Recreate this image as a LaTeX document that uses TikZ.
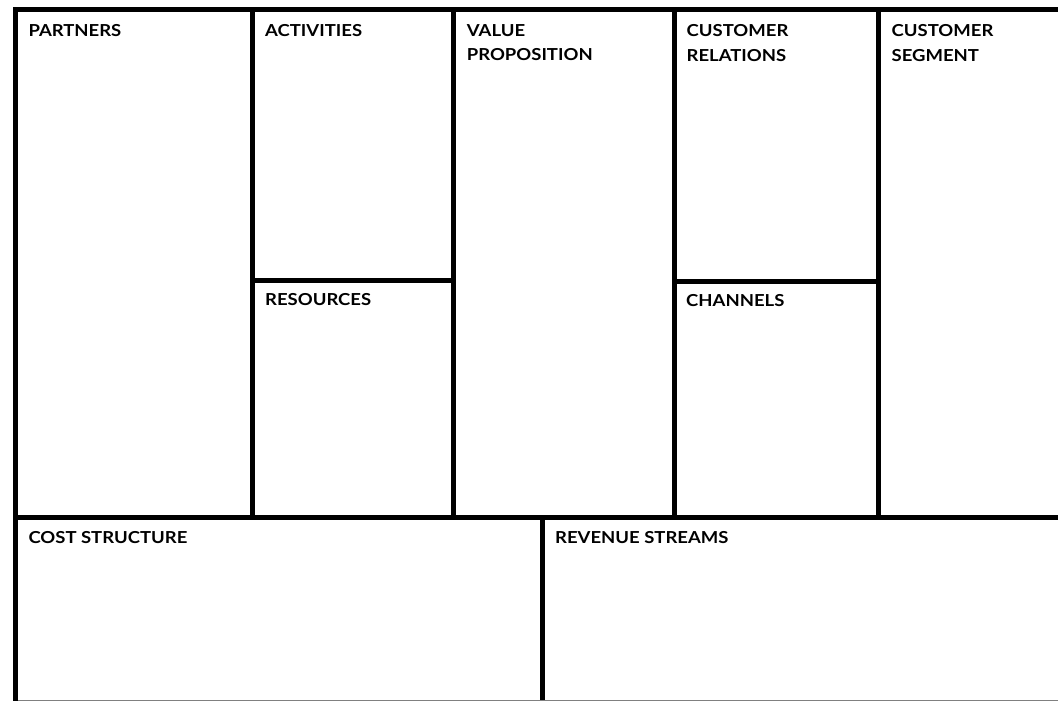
\documentclass[tikz,border=0pt]{standalone}
\usepackage{fontspec}
\setmainfont{Lato}
\newfontfamily\lblfont[FakeStretch=1.12]{Lato}
\begin{document}
\begin{tikzpicture}[x=1pt,y=-1pt,
  grid/.style={line width=5pt, draw=black},
  lbl/.style={anchor=north west, inner sep=0pt, align=left,
    font=\lblfont\fontsize{16.5}{24.5}\selectfont\bfseries}]
\useasboundingbox (0,0) rectangle (1058,701);
\fill[white] (0,0) rectangle (1058,701);
% outer frame (left + top)
\draw[grid, line join=miter] (15.8,701) -- (15.8,9.5) -- (1058,9.5);
% upper verticals
\draw[grid] (252,9.5) -- (252,517);
\draw[grid] (453,9.5) -- (453,517);
\draw[grid] (674,9.5) -- (674,517);
\draw[grid] (878,9.5) -- (878,517);
% middle horizontals
\draw[grid] (252,280) -- (453,280);
\draw[grid] (674,281) -- (878,281);
% bottom horizontal
\draw[grid] (15.8,517) -- (1058,517);
% revenue divider
\draw[grid] (542,517) -- (542,701);
% bottom edge
\draw[line width=1pt, draw=gray] (18,700.5) -- (1058,700.5);
% labels
\node[lbl] (partners) at (28.3,24.3) {PARTNERS};
\node[lbl] (activities) at (265,24.3) {ACTIVITIES};
\node[lbl] (value) at (466.7,24.3) {VALUE\\PROPOSITION};
\node[lbl] (crel) at (686.5,24.3) {CUSTOMER\\RELATIONS};
\node[lbl] (cseg) at (891.5,24.3) {CUSTOMER\\SEGMENT};
\node[lbl] (resources) at (265,293.5) {RESOURCES};
\node[lbl] (channels) at (686,294) {CHANNELS};
\node[lbl] (cost) at (28.3,531) {COST STRUCTURE};
\node[lbl] (revenue) at (555,531) {REVENUE STREAMS};
\end{tikzpicture}
\end{document}
